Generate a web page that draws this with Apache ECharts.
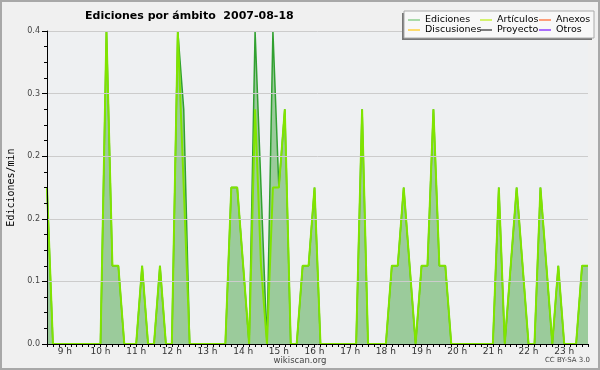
<!DOCTYPE html>
<html><head><meta charset="utf-8">
<script src="https://cdn.jsdelivr.net/npm/echarts@6/dist/echarts.min.js"></script>
<style>html,body{margin:0;padding:0;background:#f0f0f0}#c{width:600px;height:370px}</style>
</head><body><div id="c"></div>
<script>
const times = ['08:30','08:40','08:50','09:00','09:10','09:20','09:30','09:40','09:50',
 '10:00','10:10','10:20','10:30','10:40','10:50','11:00','11:10','11:20','11:30','11:40','11:50',
 '12:00','12:10','12:20','12:30','12:40','12:50','13:00','13:10','13:20','13:30','13:40','13:50',
 '14:00','14:10','14:20','14:30','14:40','14:50','15:00','15:10','15:20','15:30','15:40','15:50',
 '16:00','16:10','16:20','16:30','16:40','16:50','17:00','17:10','17:20','17:30','17:40','17:50',
 '18:00','18:10','18:20','18:30','18:40','18:50','19:00','19:10','19:20','19:30','19:40','19:50',
 '20:00','20:10','20:20','20:30','20:40','20:50','21:00','21:10','21:20','21:30','21:40','21:50',
 '22:00','22:10','22:20','22:30','22:40','22:50','23:00','23:10','23:20','23:30','23:40'];
const ediciones = [0.2,0,0,0,0,0,0,0,0,
 0,0.4,0.1,0.1,0,0,0,0.1,0,0,0.1,0,
 0,0.4,0.3,0,0,0,0,0,0,0,0.2,0.2,
 0.1,0,0.4,0.2,0,0.4,0.2,0.3,0,0,0.1,0.1,
 0.2,0,0,0,0,0,0,0,0.3,0,0,0,
 0,0.1,0.1,0.2,0.1,0,0.1,0.1,0.3,0.1,0.1,0,
 0,0,0,0,0,0,0,0.2,0,0.1,0.2,0.1,
 0,0,0.2,0.1,0,0.1,0,0,0,0.1,0.1];
const articulos = [0.2,0,0,0,0,0,0,0,0,
 0,0.4,0.1,0.1,0,0,0,0.1,0,0,0.1,0,
 0,0.4,0.2,0,0,0,0,0,0,0,0.2,0.2,
 0.1,0,0.3,0.1,0,0.2,0.2,0.3,0,0,0.1,0.1,
 0.2,0,0,0,0,0,0,0,0.3,0,0,0,
 0,0.1,0.1,0.2,0.1,0,0.1,0.1,0.3,0.1,0.1,0,
 0,0,0,0,0,0,0,0.2,0,0.1,0.2,0.1,
 0,0,0.2,0.1,0,0.1,0,0,0,0.1,0.1];
const anexos = times.map(() => 0);
const discusiones = times.map(() => 0);
const proyecto = times.map(() => 0);
const otros = times.map(() => 0);
const yTickLabels = ['0.0','0.1','0.2','0.2','0.3','0.4'];

const chart = echarts.init(document.getElementById('c'));
const lf = 'DejaVu Sans';
function leg(left, items){
  return {left:left, top:15, z:30, orient:'vertical', itemGap:0, itemWidth:12, itemHeight:1.5, icon:'rect',
    padding:0, selectedMode:false, data:items,
    textStyle:{fontSize:9.5, fontFamily:lf, color:'#000', lineHeight:10}};
}
const zeroLine = (name, color) => ({name:name, type:'line', data:null, symbol:'none', z:1,
  lineStyle:{color:color, width:1}, itemStyle:{color:color}});
const s3 = zeroLine('Anexos','#ff7f3f'); s3.data = anexos;
const s4 = zeroLine('Discusiones','#ffd23f'); s4.data = discusiones;
const s5 = zeroLine('Proyecto','#555555'); s5.data = proyecto;
const s6 = zeroLine('Otros','#9040ff'); s6.data = otros;

chart.setOption({
  backgroundColor:'#f0f0f0',
  animation:false,
  title:{text:'Ediciones por ámbito  2007-08-18', left:80, top:6,
    textStyle:{fontSize:11, fontWeight:'bold', fontFamily:lf, color:'#000'}},
  legend:[
    leg(408,[{name:'Ediciones', itemStyle:{color:'#8fd08f'}},{name:'Discusiones', itemStyle:{color:'#ffd23f'}}]),
    leg(480,[{name:'Artículos', itemStyle:{color:'#c8f040'}},{name:'Proyecto', itemStyle:{color:'#555555'}}]),
    leg(539,[{name:'Anexos', itemStyle:{color:'#ff8050'}},{name:'Otros', itemStyle:{color:'#9040ff'}}])
  ],
  grid:{left:47, right:12, top:31, bottom:26, show:true, backgroundColor:'#eef0f2', borderWidth:0,
    containLabel:false, outerBoundsMode:'none'},
  xAxis:{type:'category', data:times, boundaryGap:false, z:5,
    axisLine:{lineStyle:{color:'#000', width:1}},
    axisTick:{show:true, interval:0, length:3, lineStyle:{color:'#000'}},
    axisLabel:{interval:(i) => (i - 3) % 6 === 0,
      formatter:(v) => parseInt(v.slice(0,2),10) + ' h',
      fontSize:9, fontFamily:lf, color:'#333', margin:3},
    splitLine:{show:false}},
  yAxis:{type:'value', min:0, max:0.4, interval:0.08, z:5,
    axisLine:{show:true, lineStyle:{color:'#000'}},
    axisTick:{show:true, length:5, lineStyle:{color:'#000'}},
    minorTick:{show:true, splitNumber:4, length:3, lineStyle:{color:'#000'}},
    axisLabel:{formatter:(v) => yTickLabels[Math.round(v / 0.08)], fontSize:8, fontFamily:lf, color:'#444', margin:7},
    splitLine:{lineStyle:{color:'#cccccc'}},
    name:'Ediciones/min', nameLocation:'middle', nameGap:31,
    nameTextStyle:{fontFamily:'DejaVu Sans Mono', fontSize:10, color:'#000'}},
  graphic:[
    {type:'rect', shape:{x:402, y:13, width:190, height:27}, style:{fill:'#777'}, z:10},
    {type:'rect', shape:{x:404, y:11, width:190, height:27}, style:{fill:'#f8f8f8', stroke:'#aaa', lineWidth:1}, z:11},
    {type:'text', left:'center', top:356, style:{text:'wikiscan.org', fontSize:8.5, fontFamily:lf, fill:'#444'}},
    {type:'text', right:10, top:357, style:{text:'CC BY-SA 3.0', fontSize:7, fontFamily:lf, fill:'#444'}},
    {type:'rect', shape:{x:1, y:1, width:598, height:368}, style:{fill:null, stroke:'#a8a8a8', lineWidth:2}, z:20}
  ],
  series:[
    s3, s4, s5, s6,
    {name:'Ediciones', type:'line', data:ediciones, symbol:'none', z:2,
      lineStyle:{color:'#30a030', width:1.5}, itemStyle:{color:'#30a030'},
      areaStyle:{color:'#9bcb9b', opacity:1}},
    {name:'Artículos', type:'line', data:articulos, symbol:'none', z:3,
      lineStyle:{color:'#80e400', width:2}, itemStyle:{color:'#80e400'}}
  ]
});
</script></body></html>
